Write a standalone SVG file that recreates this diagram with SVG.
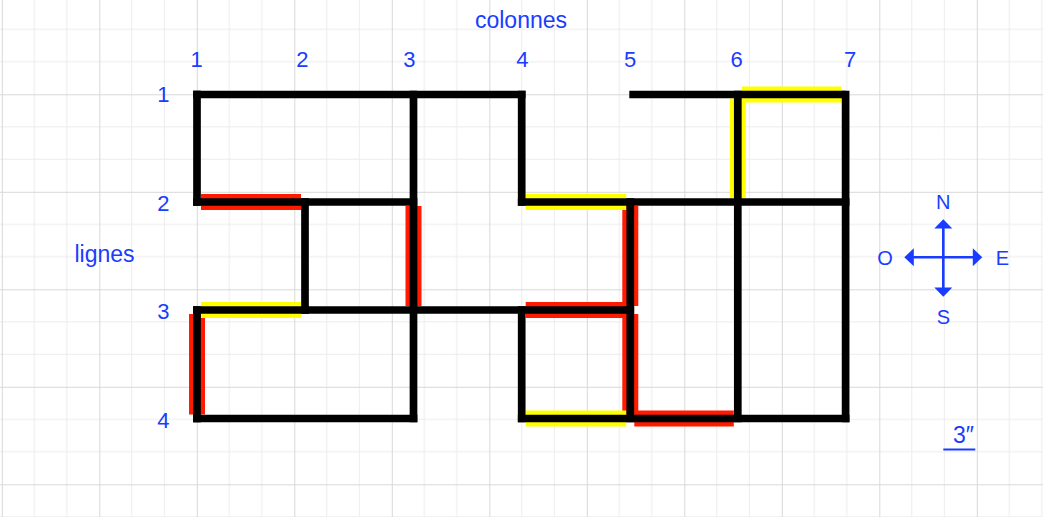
<svg xmlns="http://www.w3.org/2000/svg" width="1043" height="517" viewBox="0 0 1043 517">
<style>
.wall{stroke:#000;stroke-width:7.7;stroke-linecap:square;fill:none}
.wallb{stroke:#000;stroke-width:7.7;stroke-linecap:butt;fill:none}
.red{stroke:#ff1a00;stroke-width:16;stroke-linecap:butt}
.yel{stroke:#ffff00;stroke-width:16;stroke-linecap:butt}
.lbl{font-family:"Liberation Sans",Arial,Helvetica,sans-serif;fill:#1a3cff;text-anchor:middle}
.num{font-size:22px}
.word{font-size:23px}
.dir{font-size:20px}
.cmp{stroke:#1a3cff;stroke-width:2.6}
.head{fill:#1a3cff}
</style>
<defs>
<pattern id="grid" patternUnits="userSpaceOnUse" x="1.8" y="-3.2" width="97.5" height="97.5">
<path d="M32.5 0V97.5M65 0V97.5M0 32.5H97.5M0 65H97.5" stroke="#ececec" stroke-width="1" fill="none"/>
<path d="M0.5 0V97.5M0 0.5H97.5" stroke="#d8d8d8" stroke-width="1" fill="none"/>
</pattern>
</defs>
<rect width="1043" height="517" fill="#fff"/>
<rect width="1043" height="517" fill="url(#grid)"/>

<g id="highlights">
<line class="red" x1="201" y1="202" x2="301" y2="202"/>
<line class="red" x1="413.5" y1="206" x2="413.5" y2="306"/>
<line class="red" x1="630.3" y1="206" x2="630.3" y2="306"/>
<line class="red" x1="525.7" y1="310" x2="626.3" y2="310"/>
<line class="red" x1="630.3" y1="314" x2="630.3" y2="414.5"/>
<line class="red" x1="634.3" y1="418.5" x2="733.8" y2="418.5"/>
<line class="red" x1="197" y1="314" x2="197" y2="414.5"/>
<line class="yel" x1="201" y1="310" x2="301" y2="310"/>
<line class="yel" x1="525.7" y1="202" x2="626.3" y2="202"/>
<line class="yel" x1="525.7" y1="418.5" x2="626.3" y2="418.5"/>
<line class="yel" x1="737.8" y1="98.5" x2="737.8" y2="198"/>
<line class="yel" x1="741.8" y1="94.5" x2="841.6" y2="94.5"/>
</g>

<g id="walls">
<line class="wall" x1="197" y1="94.5" x2="521.7" y2="94.5"/>
<line class="wallb" x1="629.3" y1="94.5" x2="845.6" y2="94.5"/>
<line class="wall" x1="197" y1="94.5" x2="197" y2="202"/>
<line class="wall" x1="197" y1="202" x2="413.5" y2="202"/>
<line class="wall" x1="305" y1="202" x2="305" y2="310"/>
<line class="wall" x1="197" y1="310" x2="630.3" y2="310"/>
<line class="wall" x1="197" y1="310" x2="197" y2="418.5"/>
<line class="wall" x1="197" y1="418.5" x2="413.5" y2="418.5"/>
<line class="wall" x1="413.5" y1="94.5" x2="413.5" y2="418.5"/>
<line class="wall" x1="521.7" y1="94.5" x2="521.7" y2="202"/>
<line class="wall" x1="521.7" y1="202" x2="845.6" y2="202"/>
<line class="wall" x1="521.7" y1="310" x2="521.7" y2="418.5"/>
<line class="wall" x1="521.7" y1="418.5" x2="845.6" y2="418.5"/>
<line class="wall" x1="630.3" y1="202" x2="630.3" y2="418.5"/>
<line class="wall" x1="737.8" y1="94.5" x2="737.8" y2="418.5"/>
<line class="wall" x1="845.6" y1="94.5" x2="845.6" y2="418.5"/>
</g>

<g id="labels">
<text class="lbl word" x="521" y="28">colonnes</text>
<text class="lbl word" x="104.5" y="262">lignes</text>
<text class="lbl num" x="196.7" y="67">1</text>
<text class="lbl num" x="302.3" y="67">2</text>
<text class="lbl num" x="409.3" y="67">3</text>
<text class="lbl num" x="522.3" y="67">4</text>
<text class="lbl num" x="630" y="67">5</text>
<text class="lbl num" x="736.7" y="67">6</text>
<text class="lbl num" x="850" y="67">7</text>
<text class="lbl num" x="163.3" y="102">1</text>
<text class="lbl num" x="163.3" y="211">2</text>
<text class="lbl num" x="163.3" y="318.5">3</text>
<text class="lbl num" x="163.3" y="427.5">4</text>
</g>

<g id="compass">
<line class="cmp" x1="943.3" y1="227" x2="943.3" y2="289"/>
<line class="cmp" x1="912" y1="257.3" x2="974.5" y2="257.3"/>
<polygon class="head" points="943.3,219.3 952.3,228.5 934.3,228.5"/>
<polygon class="head" points="943.3,296.7 952.3,287.5 934.3,287.5"/>
<polygon class="head" points="904.3,257.3 913.8,248.3 913.8,266.3"/>
<polygon class="head" points="982.3,257.3 972.8,248.3 972.8,266.3"/>
<text class="lbl dir" x="943.3" y="208.5">N</text>
<text class="lbl dir" x="943.3" y="323.5">S</text>
<text class="lbl dir" x="885" y="265">O</text>
<text class="lbl dir" x="1002.3" y="265">E</text>
</g>

<g id="scale">
<text class="lbl word" x="963.5" y="443">3″</text>
<line x1="943.3" y1="449.5" x2="975.3" y2="449.5" stroke="#1a3cff" stroke-width="2"/>
</g>
</svg>
